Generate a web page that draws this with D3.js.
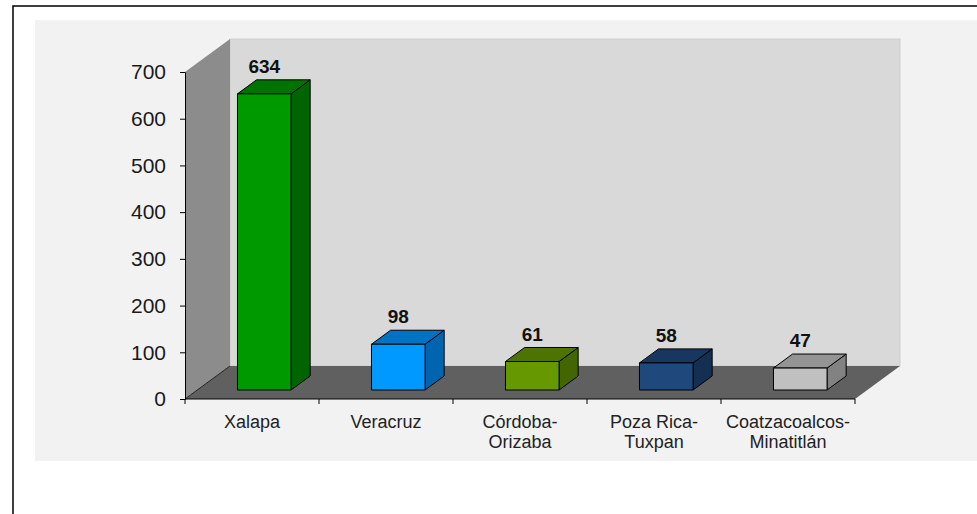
<!DOCTYPE html>
<html>
<head>
<meta charset="utf-8">
<script src="https://cdn.jsdelivr.net/npm/d3@7"></script>
<style>
body { margin: 0; background: #fff; }
svg { display: block; font-family: "Liberation Sans", Arial, sans-serif; }
</style>
</head>
<body>
<script>
// data
const regions = ["Xalapa", "Veracruz", "Córdoba-Orizaba", "Poza Rica-Tuxpan", "Coatzacoalcos-Minatitlán"];
const regionLines = [["Xalapa"], ["Veracruz"], ["Córdoba-", "Orizaba"], ["Poza Rica-", "Tuxpan"], ["Coatzacoalcos-", "Minatitlán"]];
const values = [634, 98, 61, 58, 47];
const yTicks = [0, 100, 200, 300, 400, 500, 600, 700];

// bar colours: front, top, side
const frontColors = ["#009900", "#0099ff", "#669900", "#1f497d", "#c0c0c0"];
const topColors = ["#007200", "#0072c4", "#4d7300", "#17375e", "#949494"];
const sideColors = ["#006400", "#0064ae", "#446600", "#132f52", "#828282"];

var width = 977,
	height = 514;

var svg = d3.select("body").append("svg").attr("width", width).attr("height", height);

// frame and panel
svg.append("path").attr("d", "M13,514 V6 H977").attr("fill", "none").attr("stroke", "#000").attr("stroke-width", 1.5);
svg.append("rect").attr("x", 35).attr("y", 20).attr("width", 942).attr("height", 441).attr("fill", "#f2f2f2");

var x = d3.scaleBand().domain(regions).range([185, 855]);
var y = d3.scaleLinear().domain([0, 700]).range([399, 72]);

// depth of the 3d box
var dx = 45,
	dy = -33;
var x0 = x.range()[0],
	x1 = x.range()[1];

// back wall
svg.append("rect")
	.attr("x", x0 + dx)
	.attr("y", y(700) + dy)
	.attr("width", x1 - x0)
	.attr("height", y(0) - y(700))
	.attr("fill", "#d9d9d9")
	.attr("stroke", "#c8c8c8")
	.attr("stroke-width", 0.8);

// side wall
svg.append("polygon")
	.attr("points", [[x0, y(0)], [x0, y(700)], [x0 + dx, y(700) + dy], [x0 + dx, y(0) + dy]].join(" "))
	.attr("fill", "#8c8c8c");

// floor
svg.append("polygon")
	.attr("points", [[x0, y(0)], [x0 + dx, y(0) + dy], [x1 + dx, y(0) + dy], [x1, y(0)]].join(" "))
	.attr("fill", "#606060");
svg.append("line")
	.attr("x1", x0).attr("y1", y(0))
	.attr("x2", x0 + dx).attr("y2", y(0) + dy)
	.attr("stroke", "#222").attr("stroke-width", 1);

// bars sit in the middle of the floor depth
var f1 = 9 / 33,
	f2 = 23 / 33;
var bw = x.bandwidth() * 0.4;
var bars = svg.append("g").attr("class", "bars");

regions.forEach(function (r, i) {
	var left = x(r) + (x.bandwidth() - bw) / 2 + dx * f1;
	var right = left + bw;
	var base = y(0) + dy * f1;
	var top = base - (y(0) - y(values[i]));
	var ox = dx * (f2 - f1),
		oy = dy * (f2 - f1);
	var g = bars.append("g").attr("stroke", "#000").attr("stroke-width", 1).attr("stroke-linejoin", "round");
	g.append("polygon")
		.attr("points", [[right, top], [right + ox, top + oy], [right + ox, base + oy], [right, base]].join(" "))
		.attr("fill", sideColors[i]);
	g.append("polygon")
		.attr("points", [[left, top], [left + ox, top + oy], [right + ox, top + oy], [right, top]].join(" "))
		.attr("fill", topColors[i]);
	g.append("rect")
		.attr("x", left).attr("y", top)
		.attr("width", bw).attr("height", base - top)
		.attr("fill", frontColors[i]);

	// value label
	svg.append("text")
		.attr("x", left + bw / 2)
		.attr("y", top + oy - 7)
		.attr("text-anchor", "middle")
		.attr("font-size", 19)
		.attr("font-weight", "bold")
		.attr("fill", "#111")
		.text(values[i]);
});

// y axis
var yAxis = svg.append("g")
	.attr("transform", "translate(" + x0 + ",0)")
	.call(d3.axisLeft(y).tickValues(yTicks).tickSize(5).tickPadding(14));
yAxis.selectAll("text").attr("font-size", 21).attr("fill", "#1a1a1a").attr("font-family", "Liberation Sans, Arial, sans-serif");
yAxis.select(".domain").attr("stroke", "#000");

// x axis with ticks between categories
var xAxis = svg.append("g");
xAxis.append("line").attr("x1", x0).attr("x2", x1).attr("y1", y(0)).attr("y2", y(0)).attr("stroke", "#000");
xAxis.selectAll("line.tick")
	.data(regions.map((r) => x(r)).concat([x1]))
	.enter()
	.append("line")
	.attr("class", "tick")
	.attr("x1", (d) => d).attr("x2", (d) => d)
	.attr("y1", y(0)).attr("y2", y(0) + 5)
	.attr("stroke", "#000");

var labels = xAxis.selectAll("text")
	.data(regions)
	.enter()
	.append("text")
	.attr("text-anchor", "middle")
	.attr("font-size", 18)
	.attr("fill", "#222")
	.attr("y", y(0) + 29);
labels.each(function (r, i) {
	d3.select(this)
		.selectAll("tspan")
		.data(regionLines[i])
		.enter()
		.append("tspan")
		.attr("x", x(r) + x.bandwidth() / 2)
		.attr("dy", (d, j) => (j === 0 ? 0 : 20))
		.text((d) => d);
});
</script>
</body>
</html>
